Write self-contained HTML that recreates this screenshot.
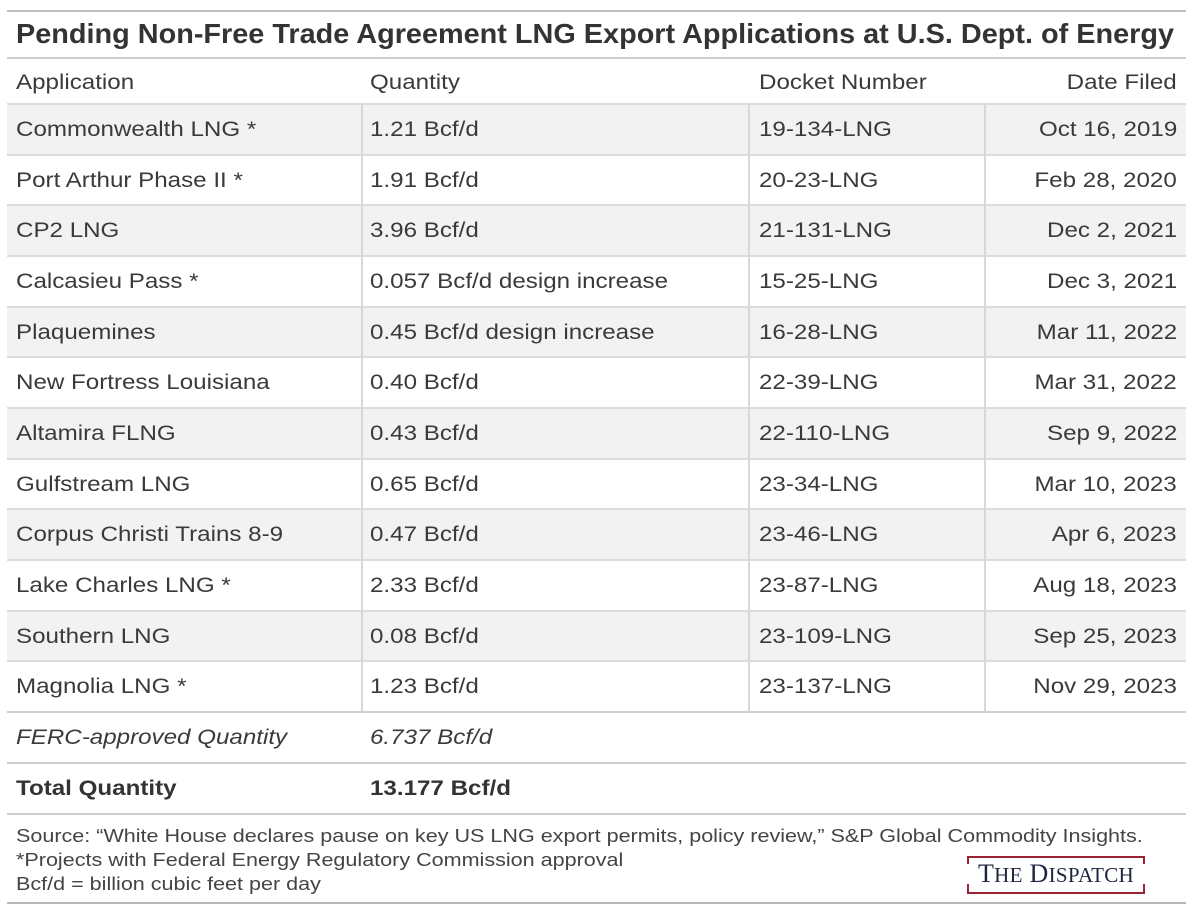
<!DOCTYPE html>
<html><head><meta charset="utf-8"><style>
body{margin:0;width:1200px;height:912px;background:#fff;font-family:"Liberation Sans",sans-serif;color:#3a3a3a;position:relative;overflow:hidden}
.a{position:absolute}
.hl{position:absolute;left:7px;width:1179px;background:#cfcfcf}
.row{position:absolute;left:7px;width:1179px;height:50px;border-top:2px solid #dcdcdc;font-size:21px}
.row span{position:absolute;top:13px;white-space:nowrap;transform:scaleX(1.15);transform-origin:left center}
.row span.c4{transform-origin:right center}
.g{background:#f2f2f2}
.c1{left:9px}.c2{left:363px}.c3{left:752px}.c4{right:9px}
.vl{position:absolute;top:104px;height:608px;width:2px;background:#d8d8d8}
</style></head><body>
<div class="hl" style="top:10px;height:2px;background:#bdbdbd"></div>
<div class="a" style="left:16px;top:18px;font-size:28px;font-weight:bold;color:#333;white-space:nowrap;transform:scaleX(1.03);transform-origin:left center">Pending Non-Free Trade Agreement LNG Export Applications at U.S. Dept. of Energy</div>
<div class="hl" style="top:57px;height:2px"></div>
<div class="row" style="top:59px;border-top:none;height:45px"><span class="c1" style="top:12px">Application</span><span class="c2" style="top:12px">Quantity</span><span class="c3" style="top:12px">Docket Number</span><span class="c4" style="top:12px">Date Filed</span></div>
<div class="row g" style="top:103px"><span class="c1">Commonwealth LNG *</span><span class="c2">1.21 Bcf/d</span><span class="c3">19-134-LNG</span><span class="c4">Oct 16, 2019</span></div>
<div class="row" style="top:154px"><span class="c1">Port Arthur Phase II *</span><span class="c2">1.91 Bcf/d</span><span class="c3">20-23-LNG</span><span class="c4">Feb 28, 2020</span></div>
<div class="row g" style="top:204px"><span class="c1">CP2 LNG</span><span class="c2">3.96 Bcf/d</span><span class="c3">21-131-LNG</span><span class="c4">Dec 2, 2021</span></div>
<div class="row" style="top:255px"><span class="c1">Calcasieu Pass *</span><span class="c2">0.057 Bcf/d design increase</span><span class="c3">15-25-LNG</span><span class="c4">Dec 3, 2021</span></div>
<div class="row g" style="top:306px"><span class="c1">Plaquemines</span><span class="c2">0.45 Bcf/d design increase</span><span class="c3">16-28-LNG</span><span class="c4">Mar 11, 2022</span></div>
<div class="row" style="top:356px"><span class="c1">New Fortress Louisiana</span><span class="c2">0.40 Bcf/d</span><span class="c3">22-39-LNG</span><span class="c4">Mar 31, 2022</span></div>
<div class="row g" style="top:407px"><span class="c1">Altamira FLNG</span><span class="c2">0.43 Bcf/d</span><span class="c3">22-110-LNG</span><span class="c4">Sep 9, 2022</span></div>
<div class="row" style="top:458px"><span class="c1">Gulfstream LNG</span><span class="c2">0.65 Bcf/d</span><span class="c3">23-34-LNG</span><span class="c4">Mar 10, 2023</span></div>
<div class="row g" style="top:508px"><span class="c1">Corpus Christi Trains 8-9</span><span class="c2">0.47 Bcf/d</span><span class="c3">23-46-LNG</span><span class="c4">Apr 6, 2023</span></div>
<div class="row" style="top:559px"><span class="c1">Lake Charles LNG *</span><span class="c2">2.33 Bcf/d</span><span class="c3">23-87-LNG</span><span class="c4">Aug 18, 2023</span></div>
<div class="row g" style="top:610px"><span class="c1">Southern LNG</span><span class="c2">0.08 Bcf/d</span><span class="c3">23-109-LNG</span><span class="c4">Sep 25, 2023</span></div>
<div class="row" style="top:660px"><span class="c1">Magnolia LNG *</span><span class="c2">1.23 Bcf/d</span><span class="c3">23-137-LNG</span><span class="c4">Nov 29, 2023</span></div>
<div class="vl" style="left:361px"></div><div class="vl" style="left:748px"></div><div class="vl" style="left:984px"></div>
<div class="row" style="top:711px;border-top:2px solid #d0d0d0"><span class="c1" style="font-style:italic">FERC-approved Quantity</span><span class="c2" style="font-style:italic">6.737 Bcf/d</span></div>
<div class="row" style="top:762px;border-top:2px solid #d0d0d0;font-weight:bold;color:#333"><span class="c1">Total Quantity</span><span class="c2">13.177 Bcf/d</span></div>
<div class="hl" style="top:813px;height:2px"></div>
<div class="a" style="left:16px;top:824px;font-size:18.5px;line-height:24px;color:#444;white-space:nowrap;transform:scaleX(1.165);transform-origin:left top">Source: “White House declares pause on key US LNG export permits, policy review,” S&amp;P Global Commodity Insights.<br>*Projects with Federal Energy Regulatory Commission approval<br>Bcf/d = billion cubic feet per day</div>
<div class="a" style="left:967px;top:856px;width:178px;height:34px;border-top:2px solid #9b2335;border-bottom:2px solid #9b2335"></div>
<div class="a" style="left:967px;top:856px;width:2px;height:8px;background:#9b2335"></div>
<div class="a" style="left:967px;top:884px;width:2px;height:8px;background:#9b2335"></div>
<div class="a" style="left:1143px;top:856px;width:2px;height:8px;background:#9b2335"></div>
<div class="a" style="left:1143px;top:884px;width:2px;height:8px;background:#9b2335"></div>
<div class="a" style="left:967px;top:859px;width:178px;text-align:center;font-family:'Liberation Serif',serif;font-size:26px;color:#1c2640;letter-spacing:0.3px">T<span style="font-size:21px">HE</span> D<span style="font-size:21px">ISPATCH</span></div>
<div class="hl" style="top:902px;height:2px;background:#b8b8b8"></div>
</body></html>
